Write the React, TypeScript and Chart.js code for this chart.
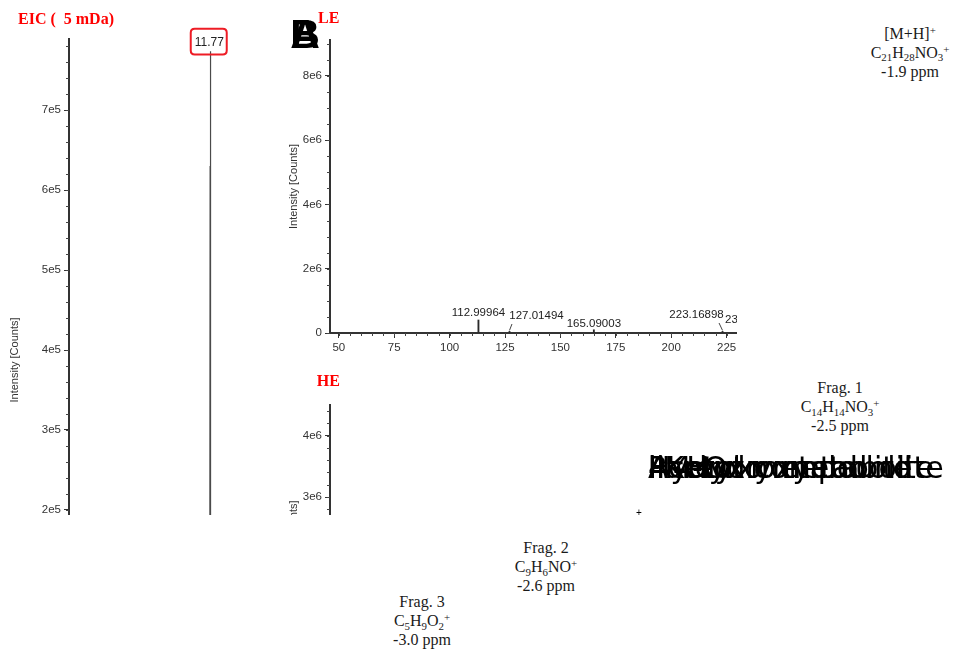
import React, { useEffect, useRef } from "react";
import { Chart, registerables } from "chart.js";

Chart.register(...registerables);

const SANS = '"Liberation Sans", Arial, sans-serif';
const SERIF = '"Liberation Serif", "Times New Roman", serif';

// ---------- EIC (extracted ion chromatogram) ----------
const eicTime = [0, 4, 8, 11.4, 11.7, 11.74, 11.76, 11.77, 11.78, 11.8, 11.83, 11.9, 12.3, 16, 20];
const eicIntensity = [3000, 3200, 3600, 4500, 9000, 210000, 630000, 773700, 690000, 340000, 60000, 11000, 5000, 3800, 3000];
const eicPeakLabel = "11.77";
const eicYTicks = [0, 100000, 200000, 300000, 400000, 500000, 600000, 700000];
const eicYMin = -14000;
const eicYMax = 789000;
const eicXMin = 0;
const eicXMax = 20;

// ---------- LE spectrum ----------
const leMz = [112.99964, 127.01494, 165.09003, 223.16898, 236.59718, 342.20643];
const leIntensity = [405000, 50000, 100000, 50000, 80000, 8900000];
const leLabels = ["112.99964", "127.01494", "165.09003", "223.16898", "236.59718", "342.20643"];
const leYTicks = [0, 2000000, 4000000, 6000000, 8000000];
const leYMax = 9120000;

// ---------- HE spectrum ----------
const heMz = [101.05971, 144.04439, 244.09682, 342.20643];
const heIntensity = [1100000, 2300000, 4300000, 1600000];
const heLabels = ["101.05971", "144.04439", "244.09682", "342.20643"];
const heYTicks = [0, 1000000, 2000000, 3000000, 4000000];
const heYMax = 4502000;

// ---------- shared m/z axis ----------
const mzTicks = [50, 75, 100, 125, 150, 175, 200, 225, 250, 275, 300, 325, 350, 375];
const mzMin = 46;
const mzMax = 380;

// label placement (pixels) for the peak annotations
const leLabelDx = [0, 27, 0, -26, 0, 0];
const leLabelGap = [4, 12.4, 3, 13.4, 7.4, 4];
const heLabelDx = [0, 0, 0, 0];
const heLabelGap = [4, 4, 4, 4];

const AXIS = "#333";
const fmtExp = (v: number) => (v === 0 ? "0" : Number(v).toExponential().replace("e+", "e"));

const minorTicksPlugin = {
  id: "minorTicks",
  afterDraw(chart: any, _a: any, opts: any) {
    if (!opts) return;
    const ctx = chart.ctx;
    ctx.save();
    ctx.strokeStyle = "#444";
    ctx.lineWidth = 1;
    ctx.beginPath();
    const ys = chart.scales.y;
    if (opts.y && ys) {
      const k0 = Math.ceil(ys.min / opts.y);
      const k1 = Math.floor(ys.max / opts.y);
      for (let k = k0; k <= k1; k++) {
        const p = Math.round(ys.getPixelForValue(k * opts.y)) + 0.5;
        ctx.moveTo(ys.right - 3, p);
        ctx.lineTo(ys.right, p);
      }
    }
    const xs = chart.scales.x;
    if (opts.x && xs && xs.options.display) {
      const k0 = Math.ceil(xs.min / opts.x);
      const k1 = Math.floor(xs.max / opts.x);
      for (let k = k0; k <= k1; k++) {
        const p = Math.round(xs.getPixelForValue(k * opts.x)) + 0.5;
        ctx.moveTo(p, xs.top);
        ctx.lineTo(p, xs.top + 3);
      }
    }
    ctx.stroke();
    ctx.restore();
  },
};

const apexBoxPlugin = {
  id: "apexBox",
  afterDatasetsDraw(chart: any, _a: any, opts: any) {
    if (!opts || !opts.text) return;
    const ds = chart.data.datasets[0].data;
    let best = 0;
    ds.forEach((d: any, i: number) => {
      if (d.y > ds[best].y) best = i;
    });
    const el = chart.getDatasetMeta(0).data[best];
    const x = el.x;
    const y = el.y;
    const ctx = chart.ctx;
    const bx = x - 19.5, by = y - 22.4, bw = 36, bh = 25.7, r = 4;
    ctx.save();
    ctx.strokeStyle = "#ee1c25";
    ctx.lineWidth = 2;
    ctx.beginPath();
    ctx.moveTo(bx + r, by);
    ctx.lineTo(bx + bw - r, by);
    ctx.quadraticCurveTo(bx + bw, by, bx + bw, by + r);
    ctx.lineTo(bx + bw, by + bh - r);
    ctx.quadraticCurveTo(bx + bw, by + bh, bx + bw - r, by + bh);
    ctx.lineTo(bx + r, by + bh);
    ctx.quadraticCurveTo(bx, by + bh, bx, by + bh - r);
    ctx.lineTo(bx, by + r);
    ctx.quadraticCurveTo(bx, by, bx + r, by);
    ctx.closePath();
    ctx.stroke();
    ctx.fillStyle = "#222";
    ctx.font = "12px " + SANS;
    ctx.textAlign = "center";
    ctx.textBaseline = "middle";
    ctx.fillText(opts.text, x - 1, y - 8.2);
    ctx.restore();
  },
};

const peakLabelPlugin = {
  id: "peakLabels",
  afterDatasetsDraw(chart: any, _a: any, opts: any) {
    if (!opts || !opts.labels) return;
    const meta = chart.getDatasetMeta(0);
    const ctx = chart.ctx;
    ctx.save();
    ctx.font = "11.5px " + SANS;
    ctx.fillStyle = "#222";
    ctx.strokeStyle = "#444";
    ctx.lineWidth = 1;
    ctx.textAlign = "center";
    ctx.textBaseline = "alphabetic";
    meta.data.forEach((el: any, i: number) => {
      const x = el.x;
      const y = el.y;
      const dx = opts.dx[i];
      const lx = x + dx;
      const ly = y - opts.gap[i];
      ctx.fillText(opts.labels[i], lx, ly);
      if (dx !== 0) {
        ctx.beginPath();
        ctx.moveTo(x + (dx > 0 ? 2.5 : -3.5), ly + 5);
        ctx.lineTo(x, y - 1);
        ctx.stroke();
      }
    });
    ctx.restore();
  },
};

function yAxis(ticks: number[], min: number, max: number, width: number, titlePad: number) {
  return {
    type: "linear",
    min,
    max,
    afterBuildTicks: (s: any) => {
      s.ticks = ticks.map((v) => ({ value: v }));
    },
    afterFit: (s: any) => {
      s.width = width;
    },
    ticks: {
      callback: (v: any) => fmtExp(Number(v)),
      font: { family: SANS, size: 11.5 },
      color: AXIS,
      padding: 3,
    },
    grid: { drawOnChartArea: false, drawTicks: true, tickLength: 5, color: AXIS, lineWidth: 1 },
    border: { display: true, color: AXIS, width: 2 },
    title: {
      display: true,
      text: "Intensity [Counts]",
      font: { family: SANS, size: 11 },
      color: AXIS,
      padding: { top: titlePad, bottom: 0 },
    },
  };
}

function mzAxis() {
  return {
    type: "linear",
    min: mzMin,
    max: mzMax,
    offset: false,
    afterBuildTicks: (s: any) => {
      s.ticks = mzTicks.map((v) => ({ value: v }));
    },
    afterFit: (s: any) => {
      s.height = 30;
    },
    ticks: {
      callback: (v: any) => String(v),
      font: { family: SANS, size: 11.5 },
      color: AXIS,
      maxRotation: 0,
      autoSkip: false,
      padding: 3,
    },
    grid: { offset: false, drawOnChartArea: false, drawTicks: true, tickLength: 5, color: AXIS, lineWidth: 1 },
    border: { display: true, color: AXIS, width: 2 },
  };
}

function eicConfig(): any {
  return {
    type: "line",
    data: {
      datasets: [
        {
          data: eicTime.map((t, i) => ({ x: t, y: eicIntensity[i] })),
          borderColor: "#4a4a4a",
          borderWidth: 1.2,
          pointRadius: 0,
          tension: 0,
          fill: false,
        },
      ],
    },
    options: {
      responsive: false,
      animation: false,
      events: [],
      layout: { padding: { top: 39, right: 0, bottom: 19, left: 0 } },
      plugins: {
        legend: { display: false },
        tooltip: { enabled: false },
        minorTicks: { y: 20000 },
        apexBox: { text: eicPeakLabel },
      },
      scales: {
        x: { type: "linear", min: eicXMin, max: eicXMax, display: false },
        y: yAxis(eicYTicks, eicYMin, eicYMax, 69, 8.4),
      },
    },
    plugins: [minorTicksPlugin, apexBoxPlugin],
  };
}

function spectrumConfig(
  mz: number[],
  inten: number[],
  labels: string[],
  dx: number[],
  gap: number[],
  yTicks: number[],
  yMax: number,
  minorY: number,
  padTop: number
): any {
  return {
    type: "bar",
    data: {
      datasets: [
        {
          data: mz.map((m, i) => ({ x: m, y: inten[i] })),
          backgroundColor: "#2a2a2a",
          borderWidth: 0,
          barThickness: 1.2,
        },
      ],
    },
    options: {
      responsive: false,
      animation: false,
      events: [],
      layout: { padding: { top: padTop, right: 10, bottom: 0, left: 0 } },
      plugins: {
        legend: { display: false },
        tooltip: { enabled: false },
        minorTicks: { y: minorY, x: 5 },
        peakLabels: { labels, dx, gap },
      },
      scales: {
        x: mzAxis(),
        y: yAxis(yTicks, 0, yMax, 50, 7.4),
      },
    },
    plugins: [minorTicksPlugin, peakLabelPlugin],
  };
}

function ChartCanvas({ make, width, height }: { make: () => any; width: number; height: number }) {
  const ref = useRef<HTMLCanvasElement | null>(null);
  useEffect(() => {
    if (!ref.current) return;
    const chart = new Chart(ref.current, make());
    return () => chart.destroy();
  }, []);
  return <canvas ref={ref} width={width} height={height} style={{ display: "block", width, height }} />;
}

const subStyle: React.CSSProperties = { fontSize: "0.68em", position: "relative", top: "0.32em", lineHeight: 0 };
const supStyle: React.CSSProperties = { fontSize: "0.68em", position: "relative", top: "-0.45em", lineHeight: 0 };

function Formula({ parts }: { parts: [string, string][] }) {
  return (
    <span>
      {parts.map(([t, k], i) =>
        k === "sub" ? (
          <span key={i} style={subStyle}>{t}</span>
        ) : k === "sup" ? (
          <span key={i} style={supStyle}>{t}</span>
        ) : (
          <span key={i}>{t}</span>
        )
      )}
    </span>
  );
}

function Note({ cx, top, children }: { cx: number; top: number; children: React.ReactNode }) {
  return (
    <div
      style={{
        position: "absolute",
        left: cx - 100,
        top,
        width: 200,
        textAlign: "center",
        fontFamily: SERIF,
        fontSize: 16,
        lineHeight: "19px",
        color: "#1a1a1a",
        whiteSpace: "nowrap",
      }}
    >
      {children}
    </div>
  );
}

const redTitle: React.CSSProperties = {
  position: "absolute",
  fontFamily: SERIF,
  fontWeight: "bold",
  fontSize: 16,
  lineHeight: "16px",
  color: "#ff0000",
  whiteSpace: "pre",
};

const overlapWords = ["Hydroxy metabolite", "Acetyl metabolite", "4'-Hydroxy", "Parent compound", "l'Keto", "ll'4-Oxo metabolite"];

export default function App() {
  return (
    <div style={{ position: "absolute", left: 0, top: 0, width: 978, height: 651, overflow: "hidden", background: "#fff" }}>
      <div style={{ position: "absolute", left: 0, top: 0, width: 309, height: 515, overflow: "hidden" }}>
        <ChartCanvas make={eicConfig} width={309} height={700} />
      </div>
      <div style={{ position: "absolute", left: 280, top: 0, width: 457, height: 363, overflow: "hidden" }}>
        <ChartCanvas
          make={() =>
            spectrumConfig(leMz, leIntensity, leLabels, leLabelDx, leLabelGap, leYTicks, leYMax, 500000, 40)
          }
          width={800}
          height={363}
        />
      </div>
      <div style={{ position: "absolute", left: 280, top: 395, width: 457, height: 120, overflow: "hidden" }}>
        <ChartCanvas
          make={() =>
            spectrumConfig(heMz, heIntensity, heLabels, heLabelDx, heLabelGap, heYTicks, heYMax, 200000, 8)
          }
          width={800}
          height={316}
        />
      </div>

      <div style={{ ...redTitle, left: 18, top: 10.5 }}>{"EIC (  5 mDa)"}</div>
      <div style={{ ...redTitle, left: 318, top: 9.9 }}>LE</div>
      <div style={{ ...redTitle, left: 316.7, top: 373.3 }}>HE</div>

      {["A", "B"].map((t) => (
        <div
          key={t}
          style={{
            position: "absolute",
            left: 285,
            top: 13.6,
            width: 40,
            textAlign: "center",
            fontFamily: SANS,
            fontWeight: "bold",
            fontSize: 41,
            lineHeight: "41px",
            color: "#000",
          }}
        >
          {t}
        </div>
      ))}

      <Note cx={910} top={23.6}>
        <div>
          <Formula parts={[["[M+H]", ""], ["+", "sup"]]} />
        </div>
        <div>
          <Formula parts={[["C", ""], ["21", "sub"], ["H", ""], ["28", "sub"], ["NO", ""], ["3", "sub"], ["+", "sup"]]} />
        </div>
        <div>-1.9 ppm</div>
      </Note>

      <Note cx={840} top={378.1}>
        <div>Frag. 1</div>
        <div>
          <Formula parts={[["C", ""], ["14", "sub"], ["H", ""], ["14", "sub"], ["NO", ""], ["3", "sub"], ["+", "sup"]]} />
        </div>
        <div>-2.5 ppm</div>
      </Note>

      <Note cx={546} top={538.1}>
        <div>Frag. 2</div>
        <div>
          <Formula parts={[["C", ""], ["9", "sub"], ["H", ""], ["6", "sub"], ["NO", ""], ["+", "sup"]]} />
        </div>
        <div>-2.6 ppm</div>
      </Note>

      <Note cx={422} top={592.1}>
        <div>Frag. 3</div>
        <div>
          <Formula parts={[["C", ""], ["5", "sub"], ["H", ""], ["9", "sub"], ["O", ""], ["2", "sub"], ["+", "sup"]]} />
        </div>
        <div>-3.0 ppm</div>
      </Note>

      {overlapWords.map((w) => (
        <div
          key={w}
          style={{
            position: "absolute",
            left: 648,
            top: 452.6,
            fontFamily: '"DejaVu Sans", sans-serif',
            fontSize: 30,
            lineHeight: "30px",
            color: "#000",
            whiteSpace: "nowrap",
          }}
        >
          {w}
        </div>
      ))}

      <div
        style={{
          position: "absolute",
          left: 636,
          top: 506,
          fontFamily: SANS,
          fontSize: 10,
          lineHeight: "14px",
          color: "#000",
        }}
      >
        +
      </div>
    </div>
  );
}
